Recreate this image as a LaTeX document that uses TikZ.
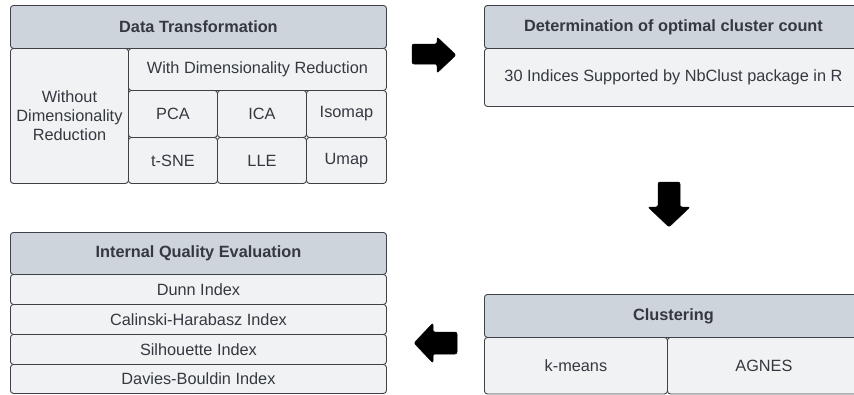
\documentclass[tikz,border=0pt]{standalone}
\usepackage{fontspec}
\setmainfont{Liberation Sans}
\definecolor{hdrc}{RGB}{206,212,220}
\definecolor{bodyc}{RGB}{241,242,244}
\definecolor{bordc}{RGB}{62,66,72}
\definecolor{txtc}{RGB}{52,57,64}
\newcommand{\fsz}{\fontsize{16.3}{19}\selectfont}
\tikzset{
  cell/.style={draw=bordc, fill=bodyc, rounded corners=3pt, line width=0.9pt,
    inner sep=0pt, anchor=north west, text=txtc, font=\fsz, align=center},
  hdr/.style={cell, fill=hdrc, font=\fsz\bfseries},
  bigarrow/.style={fill=black, draw=black, line width=0.5pt, rounded corners=2pt}
}
\newcommand{\cellbox}[7]{% style, name, x1, y1, x2, y2, text
  \node[#1, minimum width={(#5-#3)*1pt}, minimum height={(#6-#4)*1pt}] (#2) at (#3,#4) {#7};}
\begin{document}
\begin{tikzpicture}[x=1pt,y=-1pt]
\clip (0,0) rectangle (854,394);
\fill[white] (0,0) rectangle (854,394);
% Data Transformation
\cellbox{hdr}{dt}{10}{5}{386}{48}{Data Transformation}
\cellbox{cell}{wo}{10}{48}{128}{183}{Without\\Dimensionality\\Reduction}
\cellbox{cell}{wdr}{128}{48}{386}{90}{With Dimensionality Reduction}
\cellbox{cell}{pca}{128}{90}{217}{137}{PCA}
\cellbox{cell}{ica}{217}{90}{306}{137}{ICA}
\cellbox{cell}{iso}{306}{90}{386}{137}{Isomap}
\cellbox{cell}{tsne}{128}{137}{217}{183}{t-SNE}
\cellbox{cell}{lle}{217}{137}{306}{183}{LLE}
\cellbox{cell}{umap}{306}{137}{386}{183}{Umap}
% Determination
\cellbox{hdr}{det}{484}{5}{862}{48}{Determination of optimal cluster count}
\cellbox{cell}{nb}{484}{48}{862}{106}{30 Indices Supported by NbClust package in R}
% Clustering
\cellbox{hdr}{cl}{484}{294}{862}{337}{Clustering}
\cellbox{cell}{km}{484}{337}{667}{393.5}{k-means}
\cellbox{cell}{ag}{667}{337}{860}{393.5}{AGNES}
% Internal Quality Evaluation
\cellbox{hdr}{iq}{10}{232}{386}{274}{Internal Quality Evaluation}
\cellbox{cell}{dunn}{10}{274}{386}{304}{Dunn Index}
\cellbox{cell}{ch}{10}{304}{386}{334}{Calinski-Harabasz Index}
\cellbox{cell}{sil}{10}{334}{386}{364}{Silhouette Index}
\cellbox{cell}{db}{10}{364}{386}{393}{Davies-Bouldin Index}
% Arrows
\fill[bigarrow] (412,44) -- (437,44) -- (437,37) -- (456,55) -- (437,73) -- (437,64) -- (412,64) -- cycle;
\fill[bigarrow] (658,182) -- (680,182) -- (680,207) -- (690,207) -- (669,227) -- (648,207) -- (658,207) -- cycle;
\fill[bigarrow] (457,332) -- (457,354) -- (433,354) -- (433,363) -- (414,343) -- (433,323) -- (433,332) -- cycle;
\end{tikzpicture}
\end{document}
